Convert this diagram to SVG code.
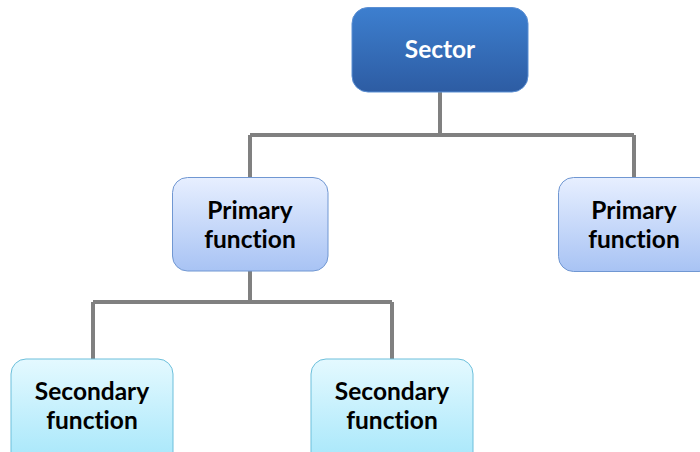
<svg xmlns="http://www.w3.org/2000/svg" width="700" height="452" viewBox="0 0 700 452">
  <defs>
    <linearGradient id="gSector" x1="0" y1="0" x2="0" y2="1">
      <stop offset="0" stop-color="#3d7fcf"/>
      <stop offset="1" stop-color="#2d5ca3"/>
    </linearGradient>
    <linearGradient id="gPrimary" x1="0" y1="0" x2="0" y2="1">
      <stop offset="0" stop-color="#e7efff"/>
      <stop offset="1" stop-color="#a8c3f4"/>
    </linearGradient>
    <linearGradient id="gSecondary" x1="0" y1="0" x2="0" y2="1">
      <stop offset="0" stop-color="#e4f9ff"/>
      <stop offset="1" stop-color="#a3e6fa"/>
    </linearGradient>
    <style>
      .sector { fill: url(#gSector); stroke: #5b8fd3; stroke-width: 1; }
      .primary { fill: url(#gPrimary); stroke: #7097d2; stroke-width: 1; }
      .secondary { fill: url(#gSecondary); stroke: #6cbfdb; stroke-width: 1; }
      .link { fill: none; stroke: #808080; stroke-width: 4; }
      text { font-family: Lato, "Liberation Sans", sans-serif; font-weight: bold; font-size: 24.5px; text-anchor: middle; font-variant-ligatures: none; }
      .dark { fill: #000000; }
      .light { fill: #ffffff; }
    </style>
  </defs>

  <!-- connectors -->
  <g id="connectors">
    <path class="link" d="M440 92 V135 M250 135 H634 M250 135 V177 M634 135 V177"/>
    <path class="link" d="M250 271 V302 M93 302 H392 M93 302 V359 M392 302 V359"/>
  </g>

  <g id="sector">
    <rect class="sector" x="352" y="7.5" width="176" height="84.5" rx="16"/>
    <text class="light" x="440" y="57.5">Sector</text>
  </g>

  <g id="primary-left">
    <rect class="primary" x="172.5" y="177.5" width="155.5" height="93.5" rx="15"/>
    <text class="dark" x="250" y="218.5">Primary</text>
    <text class="dark" x="250" y="247.5">function</text>
  </g>

  <g id="primary-right">
    <rect class="primary" x="558.5" y="177.5" width="155.5" height="94" rx="15"/>
    <text class="dark" x="634" y="218.5">Primary</text>
    <text class="dark" x="634" y="247.5">function</text>
  </g>

  <g id="secondary-left">
    <rect class="secondary" x="11" y="359" width="162" height="110" rx="15"/>
    <text class="dark" x="92" y="400">Secondary</text>
    <text class="dark" x="92" y="428.5">function</text>
  </g>

  <g id="secondary-right">
    <rect class="secondary" x="311" y="359" width="162" height="110" rx="15"/>
    <text class="dark" x="392" y="400">Secondary</text>
    <text class="dark" x="392" y="428.5">function</text>
  </g>
</svg>
